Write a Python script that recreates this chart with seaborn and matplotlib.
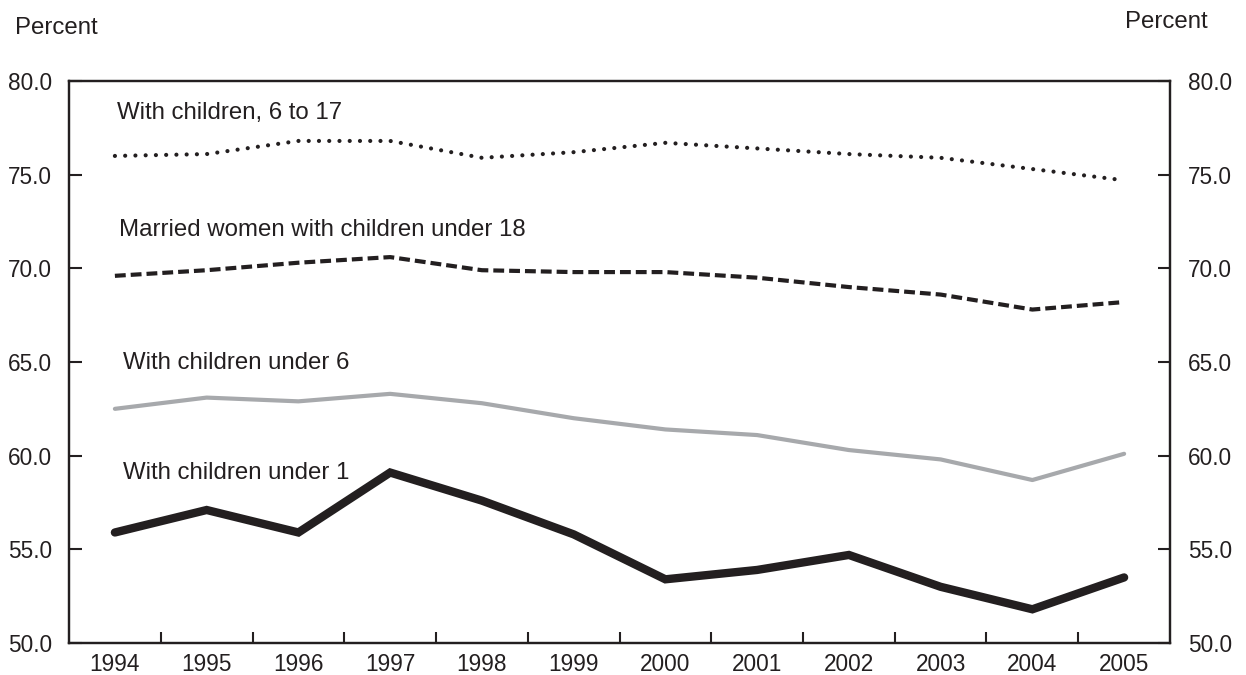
import numpy as np
import pandas as pd
import matplotlib
matplotlib.use("Agg")
import matplotlib.pyplot as plt
import seaborn as sns
from matplotlib.ticker import FixedLocator, FormatStrFormatter

# Labor force participation rates of married mothers, 1994-2005
years = list(range(1994, 2006))
children_6_17 = [76.0, 76.1, 76.8, 76.8, 75.9, 76.2, 76.7, 76.4, 76.1, 75.9, 75.3, 74.7]
children_under_18 = [69.6, 69.9, 70.3, 70.6, 69.9, 69.8, 69.8, 69.5, 69.0, 68.6, 67.8, 68.2]
children_under_6 = [62.5, 63.1, 62.9, 63.3, 62.8, 62.0, 61.4, 61.1, 60.3, 59.8, 58.7, 60.1]
children_under_1 = [55.9, 57.1, 55.9, 59.1, 57.6, 55.8, 53.4, 53.9, 54.7, 53.0, 51.8, 53.5]

y_ticks = [50, 55, 60, 65, 70, 75, 80]

sns.set_style("white")
plt.rcParams["font.family"] = ["Liberation Sans", "DejaVu Sans"]

ink = "#231f20"
grey = "#a7a9ac"

df = pd.DataFrame({
    "year": years,
    "c617": children_6_17,
    "c18": children_under_18,
    "c6": children_under_6,
    "c1": children_under_1,
})

fig = plt.figure(figsize=(12.46, 6.75), dpi=100)
ax = fig.add_axes([0.0554, 0.0474, 0.8836, 0.8326])

sns.lineplot(data=df, x="year", y="c617", ax=ax, color=ink, lw=3.0,
             linestyle=(0, (0.01, 2.45)), dash_capstyle="round")
sns.lineplot(data=df, x="year", y="c18", ax=ax, color=ink, lw=3.0,
             linestyle=(0, (2.6, 1.2)))
sns.lineplot(data=df, x="year", y="c6", ax=ax, color=grey, lw=3.0)
sns.lineplot(data=df, x="year", y="c1", ax=ax, color=ink, lw=6.0,
             solid_joinstyle="miter")

ax.set_xlim(years[0] - 0.5, years[-1] + 0.5)
ax.set_ylim(y_ticks[0], y_ticks[-1])
ax.set_xlabel("")
ax.set_ylabel("")

tfs = 16.3
lfs = 17.3
ax.xaxis.set_major_locator(FixedLocator(years))
ax.xaxis.set_minor_locator(FixedLocator([y + 0.5 for y in years[:-1]]))
ax.set_xticklabels([str(y) for y in years], fontsize=tfs, color=ink)
ax.tick_params(axis="x", which="major", bottom=True, length=0, pad=7)
ax.tick_params(axis="x", which="minor", bottom=True, direction="in",
               length=8, width=1.5, color=ink)

ax.set_yticks(y_ticks)
ax.yaxis.set_major_formatter(FormatStrFormatter("%.1f"))
ax.tick_params(axis="y", left=True, direction="in", length=9, width=1.5, color=ink,
               labelsize=tfs, labelcolor=ink, pad=12)

for s in ax.spines.values():
    s.set_color(ink)
    s.set_linewidth(1.6)

ax2 = ax.twinx()
ax2.set_ylim(ax.get_ylim())
ax2.set_yticks(y_ticks)
ax2.yaxis.set_major_formatter(FormatStrFormatter("%.1f"))
ax2.tick_params(axis="y", right=True, direction="in", length=9, width=1.5, color=ink,
                labelsize=tfs, labelcolor=ink, pad=13)
for s in ax2.spines.values():
    s.set_color(ink)
    s.set_linewidth(1.6)

# series labels
lab = dict(fontsize=lfs, color=ink, ha="left", va="center")
ax.text(1994.02, 78.3, "With children, 6 to 17", **lab)
ax.text(1994.05, 72.05, "Married women with children under 18", **lab)
ax.text(1994.09, 64.95, "With children under 6", **lab)
ax.text(1994.09, 59.1, "With children under 1", **lab)

fig.text(15 / 1246, 1 - 28 / 675, "Percent", fontsize=lfs, color=ink, ha="left", va="center")
fig.text(1208 / 1246, 1 - 22 / 675, "Percent", fontsize=lfs, color=ink, ha="right", va="center")

fig.savefig("out.png", dpi=100)
